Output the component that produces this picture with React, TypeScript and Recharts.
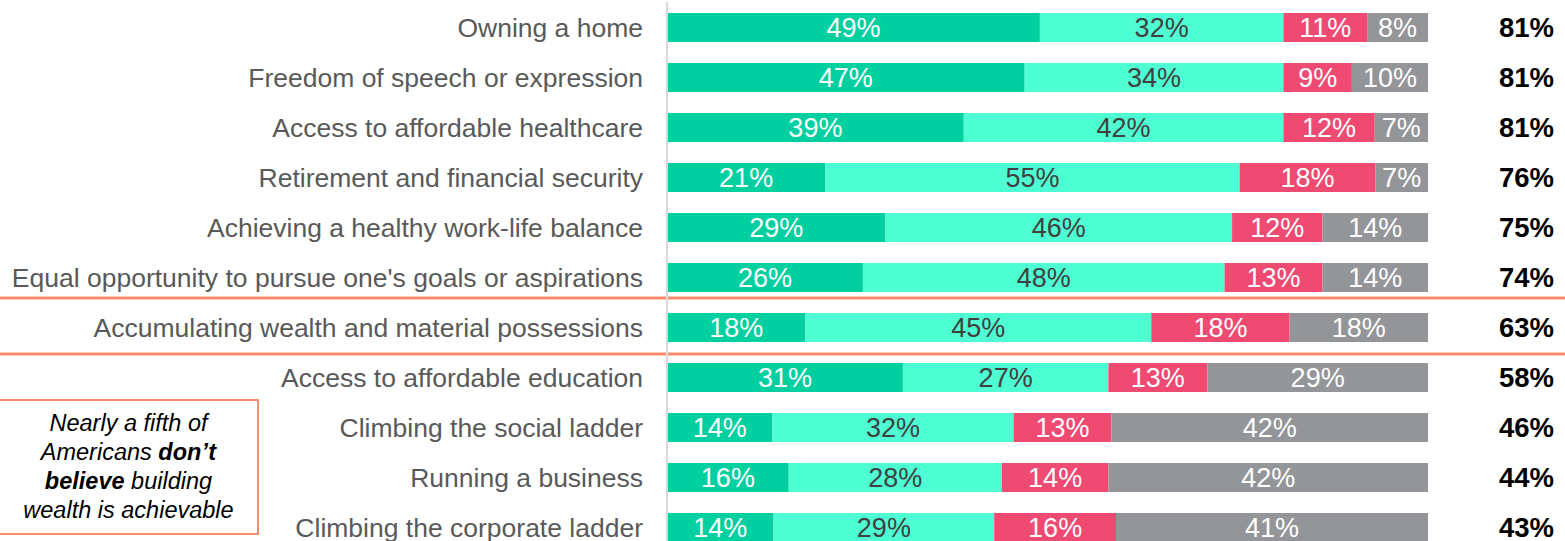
import { BarChart, Bar, XAxis, YAxis, LabelList, ReferenceLine } from 'recharts';

const categories = [
  'Owning a home',
  'Freedom of speech or expression',
  'Access to affordable healthcare',
  'Retirement and financial security',
  'Achieving a healthy work-life balance',
  "Equal opportunity to pursue one's goals or aspirations",
  'Accumulating wealth and material possessions',
  'Access to affordable education',
  'Climbing the social ladder',
  'Running a business',
  'Climbing the corporate ladder',
];

const veryAchievable = [49, 47, 39, 21, 29, 26, 18, 31, 14, 16, 14];
const somewhatAchievable = [32, 34, 42, 55, 46, 48, 45, 27, 32, 28, 29];
const notAchievable = [11, 9, 12, 18, 12, 13, 18, 13, 13, 14, 16];
const notSure = [8, 10, 7, 7, 14, 14, 18, 29, 42, 42, 41];
const achievableTotals = [81, 81, 81, 76, 75, 74, 63, 58, 46, 44, 43];

const COLORS = {
  very: '#00D0A0',
  somewhat: '#4DFFD2',
  not: '#EF4A72',
  unsure: '#939598',
  orange: '#FF8B6E',
};

const FONT = '"Liberation Sans", Arial, sans-serif';

// shown percentages are rounded, so each row is scaled to fill 100%
const chartData = categories.map((name, i) => {
  const sum = veryAchievable[i] + somewhatAchievable[i] + notAchievable[i] + notSure[i];
  return {
    name,
    very: (veryAchievable[i] / sum) * 100,
    somewhat: (somewhatAchievable[i] / sum) * 100,
    not: (notAchievable[i] / sum) * 100,
    unsure: (notSure[i] / sum) * 100,
    veryLabel: veryAchievable[i],
    somewhatLabel: somewhatAchievable[i],
    notLabel: notAchievable[i],
    unsureLabel: notSure[i],
    total: achievableTotals[i],
  };
});

const segmentLabel = (fill: string) => (props: any) => {
  const { x, y, width, height, value } = props;
  return (
    <text
      x={x + width / 2}
      y={y + height / 2}
      dy="0.36em"
      textAnchor="middle"
      fill={fill}
      fontSize={27}
      fontFamily={FONT}
    >
      {value}%
    </text>
  );
};

const CategoryTick = (props: any) => {
  const { x, y, payload } = props;
  return (
    <text x={x} y={y} dy="0.36em" textAnchor="end" fill="#595959" fontSize={26.5} fontFamily={FONT}>
      {payload.value}
    </text>
  );
};

const TotalTick = (props: any) => {
  const { x, y, payload } = props;
  const row = chartData.find((d) => d.name === payload.value);
  return (
    <text x={x} y={y} dy="0.36em" textAnchor="end" fill="#000" fontSize={27.5} fontWeight="bold" fontFamily={FONT}>
      {row ? `${row.total}%` : ''}
    </text>
  );
};

// separator lines run across the whole picture, nudged a little off the band edge
const separator = (nudge: number) => (props: any) => (
  <line
    x1={0}
    x2={1565}
    y1={props.y1 + nudge}
    y2={props.y2 + nudge}
    stroke={COLORS.orange}
    strokeWidth={3}
  />
);

export default function App() {
  return (
    <div style={{ position: 'relative', width: 1565, height: 541, overflow: 'hidden', background: '#fff' }}>
      <style>{'body{margin:0}'}</style>
      <BarChart
        width={1565}
        height={552}
        data={chartData}
        layout="vertical"
        margin={{ top: 2, right: 0, left: 0, bottom: 0 }}
        barSize={29}
      >
        <XAxis type="number" domain={[0, 100]} hide />
        <YAxis
          yAxisId="left"
          type="category"
          dataKey="name"
          width={667}
          tickLine={false}
          tickSize={0}
          tickMargin={24}
          axisLine={{ stroke: '#D9D9D9', strokeWidth: 2 }}
          tick={<CategoryTick />}
          interval={0}
        />
        <YAxis
          yAxisId="right"
          orientation="right"
          type="category"
          dataKey="name"
          width={137}
          tickLine={false}
          tickSize={0}
          tickMargin={126}
          axisLine={false}
          tick={<TotalTick />}
          interval={0}
        />
        <Bar yAxisId="left" dataKey="very" stackId="a" fill={COLORS.very} isAnimationActive={false}>
          <LabelList dataKey="veryLabel" content={segmentLabel('#FFFFFF')} />
        </Bar>
        <Bar yAxisId="left" dataKey="somewhat" stackId="a" fill={COLORS.somewhat} isAnimationActive={false}>
          <LabelList dataKey="somewhatLabel" content={segmentLabel('#404040')} />
        </Bar>
        <Bar yAxisId="left" dataKey="not" stackId="a" fill={COLORS.not} isAnimationActive={false}>
          <LabelList dataKey="notLabel" content={segmentLabel('#FFFFFF')} />
        </Bar>
        <Bar yAxisId="left" dataKey="unsure" stackId="a" fill={COLORS.unsure} isAnimationActive={false}>
          <LabelList dataKey="unsureLabel" content={segmentLabel('#FFFFFF')} />
        </Bar>
        <ReferenceLine
          yAxisId="left"
          y={categories[6]}
          position="start"
          ifOverflow="visible"
          shape={separator(-4)}
        />
        <ReferenceLine
          yAxisId="left"
          y={categories[6]}
          position="end"
          ifOverflow="visible"
          shape={separator(2)}
        />
      </BarChart>

      {/* Callout box */}
      <div
        style={{
          position: 'absolute',
          left: -2,
          top: 399,
          width: 257,
          height: 132,
          border: `2px solid ${COLORS.orange}`,
          display: 'flex',
          alignItems: 'center',
          justifyContent: 'center',
          textAlign: 'center',
          fontFamily: FONT,
          fontStyle: 'italic',
          fontSize: 23.5,
          lineHeight: '29px',
          color: '#000',
        }}
      >
        <div>
          Nearly a fifth of
          <br />
          Americans <b>don’t</b>
          <br />
          <b>believe</b> building
          <br />
          wealth is achievable
        </div>
      </div>
    </div>
  );
}
